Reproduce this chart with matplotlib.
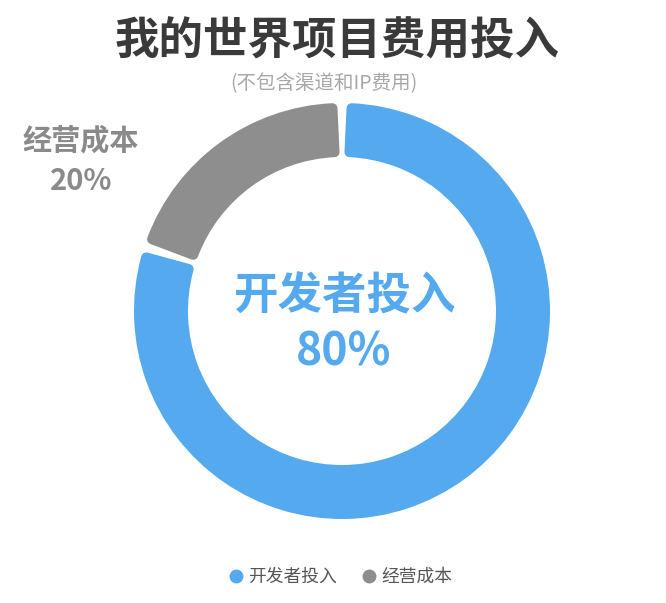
import numpy as np
import matplotlib
matplotlib.use("Agg")
import matplotlib.pyplot as plt

plt.rcParams["font.family"] = ["Noto Sans CJK SC", "DejaVu Sans"]

# data
labels = ["开发者投入", "经营成本"]
shares = [80, 20]
colors = ["#55A9EE", "#8E8E8E"]

W, H = 666, 603
fig = plt.figure(figsize=(W / 100, H / 100), dpi=100)
ax = fig.add_axes([0, 0, 1, 1])

cx, cy = 342, H - 311
r_out, r_in = 208, 154
lw_px = 10      # stroke used to round the corners
gap_px = 7

wedges, _ = ax.pie(shares, colors=colors, startangle=90, counterclock=False,
                   center=(cx, cy), radius=r_out, frame=True,
                   wedgeprops=dict(width=r_out - r_in))
ax.set_xlim(0, W)
ax.set_ylim(0, H)
ax.set_aspect("equal")
ax.axis("off")

# shrink each ring segment and stroke it in its own colour with round joins
r_mid = (r_out + r_in) / 2
dtheta = np.degrees((lw_px / 2 + gap_px / 2) / r_mid)
for w, c in zip(wedges, colors):
    w.set_theta1(w.theta1 + dtheta)
    w.set_theta2(w.theta2 - dtheta)
    w.set_radius(r_out - lw_px / 2)
    w.set_width(r_out - r_in - lw_px)
    w.set_edgecolor(c)
    w.set_linewidth(lw_px * 72 / 100)
    w.set_joinstyle("round")

ax.text(337, H - 42, "我的世界项目费用投入", ha="center", va="center",
        fontsize=32, fontweight="bold", color="#3A3A3A")
ax.text(324, H - 84, "(不包含渠道和IP费用)", ha="center", va="center",
        fontsize=14, color="#A8A8A8")

ax.text(81, H - 140, labels[1], ha="center", va="center",
        fontsize=21, fontweight="bold", color="#8A8A8A")
ax.text(81, H - 181, f"{shares[1]}%", ha="center", va="center",
        fontsize=21, fontweight="bold", color="#8A8A8A")

ax.text(344, H - 297, labels[0], ha="center", va="center",
        fontsize=32, fontweight="bold", color=colors[0])
ax.text(344, H - 352, f"{shares[0]}%", ha="center", va="center",
        fontsize=32, fontweight="bold", color=colors[0])

# legend
handles = [plt.Line2D([], [], marker="o", linestyle="", markersize=9,
                      markerfacecolor=c, markeredgecolor=c) for c in colors]
fig.legend(handles, labels, loc="center", bbox_to_anchor=(338 / W, 1 - 577 / H),
           ncol=2, frameon=False, fontsize=12.8, handletextpad=0.0,
           handlelength=1.4, columnspacing=1.1, labelcolor="#555555")

fig.savefig("out.png", dpi=100, facecolor="white")
